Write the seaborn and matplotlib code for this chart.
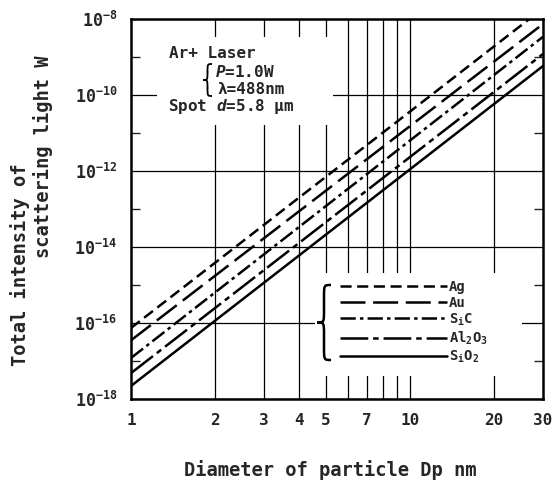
import numpy as np
import pandas as pd
import matplotlib
matplotlib.use("Agg")
import matplotlib.pyplot as plt
import seaborn as sns
from matplotlib.ticker import FixedLocator, NullFormatter, FuncFormatter
from matplotlib.path import Path
from matplotlib.patches import PathPatch, Rectangle

# ---------------- data ----------------
materials = ["Ag", "Au", "SiC", "Al2O3", "SiO2"]
legend_labels = ["Ag", "Au", r"S$_{\mathrm{i}}$C", r"Al$_{\mathrm{2}}$O$_{\mathrm{3}}$",
                 r"S$_{\mathrm{i}}$O$_{\mathrm{2}}$"]
diameters = [1, 30]
ag = [7.4e-17, 1.9e-8]
au = [3.5e-17, 7.4e-9]
sic = [1.2e-17, 3.4e-9]
al2o3 = [4.8e-18, 1.2e-9]
sio2 = [2.2e-18, 5.8e-10]

x_ticks = [1, 2, 3, 4, 5, 7, 10, 20, 30]
x_grid = [2, 3, 4, 5, 6, 7, 8, 9, 10, 20]
y_major = [1e-18, 1e-16, 1e-14, 1e-12, 1e-10, 1e-8]
y_minor = [1e-17, 1e-15, 1e-13, 1e-11, 1e-9]

# ---------------- style ----------------
sns.set_style("white")
plt.rcParams["font.family"] = ["DejaVu Sans Mono", "DejaVu Sans"]
plt.rcParams["font.weight"] = "bold"
plt.rcParams["mathtext.fontset"] = "custom"
plt.rcParams["mathtext.rm"] = "DejaVu Sans Mono:bold"
plt.rcParams["mathtext.it"] = "DejaVu Sans Mono:bold:italic"
plt.rcParams["mathtext.bf"] = "DejaVu Sans Mono:bold"
plt.rcParams["lines.scale_dashes"] = False

W, H = 555, 483
fig = plt.figure(figsize=(W / 100, H / 100), dpi=100)
AX_L, AX_R, AX_T, AX_B = 131, 543, 19, 399
ax = fig.add_axes([AX_L / W, 1 - AX_B / H, (AX_R - AX_L) / W, (AX_B - AX_T) / H])


def axfrac(px, py):
    return (px - AX_L) / (AX_R - AX_L), 1 - (py - AX_T) / (AX_B - AX_T)


values = {"Ag": ag, "Au": au, "SiC": sic, "Al2O3": al2o3, "SiO2": sio2}
rows = []
for m in materials:
    for d, v in zip(diameters, values[m]):
        rows.append({"Dp": d, "I": v, "material": m})
df = pd.DataFrame(rows)

dashes = {
    "Ag": (8, 4),
    "Au": (18, 5.5),
    "SiC": (11, 3, 2.5, 3),
    "Al2O3": (20, 3.5, 4, 3.5),
    "SiO2": "",
}
palette = {m: "black" for m in materials}

sns.lineplot(data=df, x="Dp", y="I", hue="material", style="material",
             hue_order=materials, style_order=materials,
             palette=palette, dashes=dashes, linewidth=1.8,
             legend=False, ax=ax, zorder=3)

ax.set_xscale("log")
ax.set_yscale("log")
ax.set_xlim(1, 30)
ax.set_ylim(1e-18, 1e-8)
ax.set_axisbelow(True)

# x axis
ax.xaxis.remove_overlapping_locs = False
ax.xaxis.set_major_locator(FixedLocator(x_ticks))
ax.xaxis.set_major_formatter(FuncFormatter(lambda v, p: f"{int(round(v))}"))
ax.xaxis.set_minor_locator(FixedLocator(x_grid))
ax.xaxis.set_minor_formatter(NullFormatter())
ax.tick_params(axis="x", which="major", length=0, pad=10, labelsize=11.5)
ax.tick_params(axis="x", which="minor", length=0)
ax.grid(True, axis="x", which="minor", color="black", linewidth=0.9)

# y axis
ax.yaxis.set_major_locator(FixedLocator(y_major))


def yfmt(v, p):
    e = int(round(np.log10(v)))
    return r"$10^{%d}$" % e


ax.yaxis.set_major_formatter(FuncFormatter(yfmt))
ax.yaxis.set_minor_locator(FixedLocator(y_minor))
ax.yaxis.set_minor_formatter(NullFormatter())
ax.tick_params(axis="y", which="major", length=0, pad=10, labelsize=12)
ax.tick_params(axis="y", which="minor", direction="in", length=6.5, width=1,
               left=True, right=True)
ax.grid(True, axis="y", which="major", color="black", linewidth=0.9)

for s in ax.spines.values():
    s.set_linewidth(1.8)
    s.set_color("black")
ax.set_xlabel("")
ax.set_ylabel("")


def white_box(px0, py0, px1, py1):
    x0, y0 = axfrac(px0, py1)
    x1, y1 = axfrac(px1, py0)
    ax.add_patch(Rectangle((x0, y0), x1 - x0, y1 - y0, transform=ax.transAxes,
                           facecolor="white", edgecolor="none", zorder=1))


# white areas hiding the grid behind the annotation and the legend
white_box(157, 37, 333, 125)
white_box(315, 273, 522, 376)


def ftxt(px, py, s, **kw):
    fig.text(px / W, 1 - py / H, s, va="center", **kw)


ftxt(169, 53, "Ar+ Laser", fontsize=11.5)
ftxt(215, 72, r"$P$=1.0W", fontsize=11.5)
ftxt(217, 89, "λ=488nm", fontsize=11.5)
ftxt(168, 106, r"Spot $d$=5.8 μm", fontsize=11.5)


def brace(xl, xr, ytop, ybot, lw=1.4):
    # pixel coords -> figure fraction; tip pointing left
    xm = (xl + xr) / 2
    ym = (ytop + ybot) / 2
    r = (xr - xl) * 0.9
    pts = [(xr, ytop), (xm, ytop), (xm, ytop), (xm, ytop + r),
           (xm, ym - r),
           (xm, ym), (xm, ym), (xl, ym),
           (xm, ym), (xm, ym), (xm, ym + r),
           (xm, ybot - r),
           (xm, ybot), (xm, ybot), (xr, ybot)]
    codes = [Path.MOVETO, Path.CURVE4, Path.CURVE4, Path.CURVE4,
             Path.LINETO,
             Path.CURVE4, Path.CURVE4, Path.CURVE4,
             Path.CURVE4, Path.CURVE4, Path.CURVE4,
             Path.LINETO,
             Path.CURVE4, Path.CURVE4, Path.CURVE4]
    pts = [(x / W, 1 - y / H) for x, y in pts]
    fig.patches.append(PathPatch(Path(pts, codes), transform=fig.transFigure,
                                 facecolor="none", edgecolor="black", lw=lw))


brace(203, 212, 64, 96, lw=1.3)

# legend
handles = ax.get_lines()[:len(materials)]
lx, ly = axfrac(340, 280)
leg = ax.legend(handles, legend_labels, loc="upper left", bbox_to_anchor=(lx, ly),
                bbox_transform=ax.transAxes, fontsize=10, handlelength=7.7,
                handletextpad=0.15, labelspacing=0.12, borderpad=0,
                borderaxespad=0, frameon=False)
leg.set_zorder(5)

brace(317, 331, 285, 360, lw=1.8)

# axis labels
ftxt(330, 470, "Diameter of particle Dp nm", fontsize=13.5, ha="center")
fig.text(20 / W, 1 - 265 / H, "Total intensity of", rotation=90, fontsize=13.5,
         ha="center", va="center")
fig.text(43 / W, 1 - 157 / H, "scattering light W", rotation=90, fontsize=13.5,
         ha="center", va="center")

fig.savefig("out.png", dpi=100, facecolor="white")
